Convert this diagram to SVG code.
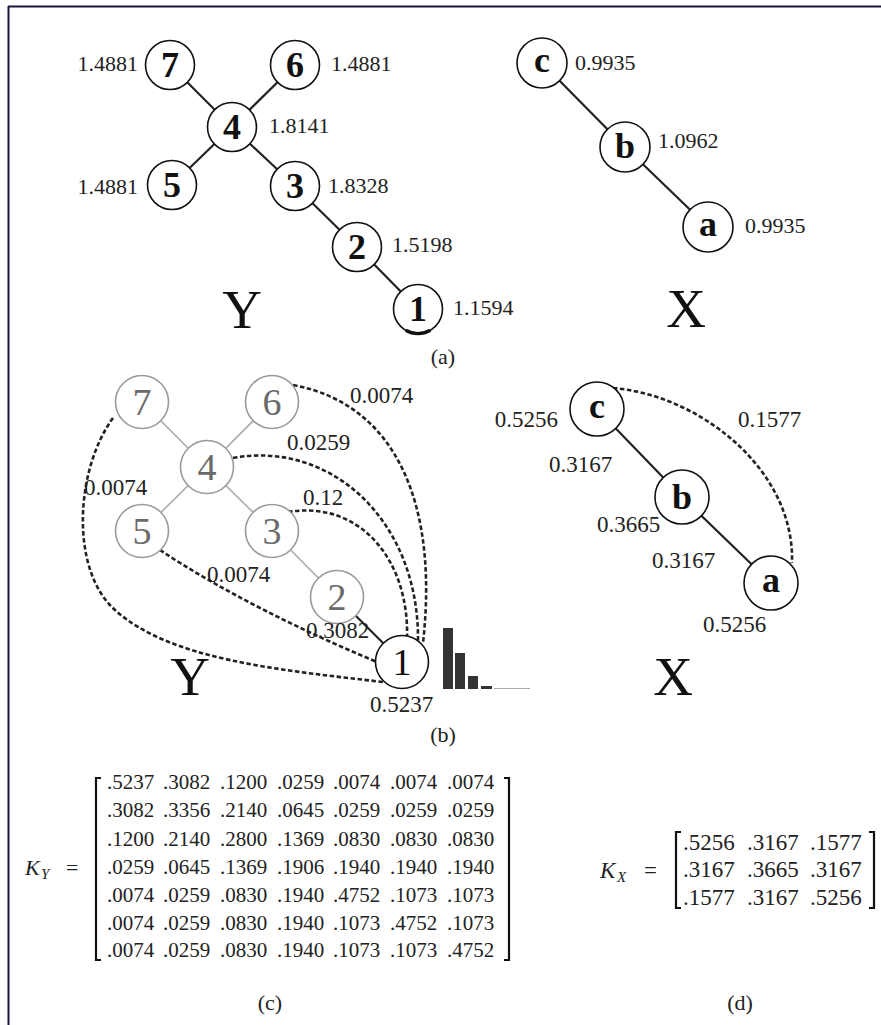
<svg xmlns="http://www.w3.org/2000/svg" width="881" height="1025" viewBox="0 0 881 1025">
<style>
text{font-family:"Liberation Serif","Times New Roman",serif;fill:#222}
.lbl{font-family:"Liberation Serif","Times New Roman",serif;font-size:22px}
.lblb{font-family:"Liberation Serif","Times New Roman",serif;font-size:23px}
.nd{fill:#fff;stroke:#111;stroke-width:1.6}
.ndg{fill:#fff;stroke:#9a9a9a;stroke-width:1.6}
.nt{font-family:"Liberation Serif","Times New Roman",serif;font-size:36px;font-weight:bold;text-anchor:middle;fill:#111}
.ntg{font-family:"Liberation Serif","Times New Roman",serif;font-size:38px;text-anchor:middle;fill:#6a6a6a}
.big{font-family:"Liberation Serif","Times New Roman",serif;font-size:55px;text-anchor:middle;fill:#111}
.cap{font-family:"Liberation Serif","Times New Roman",serif;font-size:22px;text-anchor:middle}
.e{stroke:#222;stroke-width:2.2;fill:none}
.eg{stroke:#aaa;stroke-width:1.6;fill:none}
.d{stroke:#222;stroke-width:2.6;fill:none;stroke-dasharray:4.5 2.5}
.m{font-family:"Liberation Serif","Times New Roman",serif;font-size:21px}
.mx{font-family:"Liberation Serif","Times New Roman",serif;font-size:23px}
.br{stroke:#111;stroke-width:2.2;fill:none}
</style>
<rect width="881" height="1025" fill="#fff"/>
<g id="frame">
<line x1="8" y1="6.5" x2="881" y2="6.5" stroke="#16163a" stroke-width="2"/>
<line x1="8.5" y1="6" x2="8.5" y2="1025" stroke="#16163a" stroke-width="2"/>
</g>
<g id="connectors">
<line class="e" x1="170" y1="65" x2="232" y2="127"/>
<line class="e" x1="295" y1="65" x2="232" y2="127"/>
<line class="e" x1="172" y1="185" x2="232" y2="127"/>
<line class="e" x1="232" y1="127" x2="295" y2="186"/>
<line class="e" x1="295" y1="186" x2="357" y2="247"/>
<line class="e" x1="357" y1="247" x2="418" y2="309"/>
<line class="e" x1="542" y1="63" x2="625" y2="147"/>
<line class="e" x1="625" y1="147" x2="708" y2="227"/>
<line class="eg" x1="142" y1="402" x2="207" y2="467"/>
<line class="eg" x1="272" y1="402" x2="207" y2="467"/>
<line class="eg" x1="142" y1="531" x2="207" y2="467"/>
<line class="eg" x1="207" y1="467" x2="272" y2="531"/>
<line class="eg" x1="272" y1="531" x2="337" y2="597"/>
<line class="e" x1="337" y1="597" x2="402" y2="662"/>
<path class="d" d="M293,385 C400,405 438,510 423,643"/>
<path class="d" d="M233,458 C330,440 420,520 418,643"/>
<path class="d" d="M288,512 C360,500 410,560 407,640"/>
<path class="d" d="M160,550 C220,590 300,630 377,662"/>
<path class="d" d="M113,418 C75,470 70,570 115,610 C170,660 280,670 383,682"/>
<line class="e" x1="597" y1="409" x2="682" y2="497"/>
<line class="e" x1="682" y1="497" x2="771" y2="583"/>
<path class="d" d="M613,388 C700,395 795,470 792,563"/>
</g>
<g id="panel-a-Y">
<g id="a-n7"><circle class="nd" cx="170" cy="65" r="24.5"/><text class="nt" x="170" y="77">7</text><text class="lbl" x="138" y="71" text-anchor="end">1.4881</text></g>
<g id="a-n6"><circle class="nd" cx="295" cy="65" r="24.5"/><text class="nt" x="295" y="77">6</text><text class="lbl" x="331" y="71">1.4881</text></g>
<g id="a-n4"><circle class="nd" cx="232" cy="127" r="24.5"/><text class="nt" x="232" y="139">4</text><text class="lbl" x="269" y="133">1.8141</text></g>
<g id="a-n5"><circle class="nd" cx="172" cy="185" r="24.5"/><text class="nt" x="172" y="197">5</text><text class="lbl" x="138" y="194" text-anchor="end">1.4881</text></g>
<g id="a-n3"><circle class="nd" cx="295" cy="186" r="24.5"/><text class="nt" x="295" y="198">3</text><text class="lbl" x="328" y="193">1.8328</text></g>
<g id="a-n2"><circle class="nd" cx="357" cy="247" r="24.5"/><text class="nt" x="357" y="259">2</text><text class="lbl" x="392" y="252">1.5198</text></g>
<g id="a-n1"><circle class="nd" cx="418" cy="309" r="24.5"/><path d="M405.75,330.2 A24.5,24.5 0 0 0 430.25,330.2" stroke="#111" stroke-width="3.5" fill="none"/><text class="nt" x="418" y="321">1</text><text class="lbl" x="453" y="315">1.1594</text></g>
<text class="big" x="242" y="328">Y</text>
</g>
<g id="panel-a-X">
<g id="a-nc"><circle class="nd" cx="542" cy="63" r="25"/><text class="nt" x="542" y="72">c</text><text class="lbl" x="575" y="70">0.9935</text></g>
<g id="a-nb"><circle class="nd" cx="625" cy="147" r="25"/><text class="nt" x="625" y="158">b</text><text class="lbl" x="658" y="148">1.0962</text></g>
<g id="a-na"><circle class="nd" cx="708" cy="227" r="25"/><text class="nt" x="708" y="236">a</text><text class="lbl" x="745" y="233">0.9935</text></g>
<text class="big" x="686" y="327">X</text>
</g>
<text class="cap" x="443" y="364">(a)</text>
<g id="panel-b-Y">
<g id="b-n7"><circle class="ndg" cx="142" cy="402" r="26.5"/><text class="ntg" x="142" y="415">7</text></g>
<g id="b-n6"><circle class="ndg" cx="272" cy="402" r="26.5"/><text class="ntg" x="272" y="415">6</text></g>
<g id="b-n4"><circle class="ndg" cx="207" cy="467" r="26.5"/><text class="ntg" x="207" y="480">4</text></g>
<g id="b-n5"><circle class="ndg" cx="142" cy="531" r="26.5"/><text class="ntg" x="142" y="544">5</text></g>
<g id="b-n3"><circle class="ndg" cx="272" cy="531" r="26.5"/><text class="ntg" x="272" y="544">3</text></g>
<g id="b-n2"><circle class="ndg" cx="337" cy="597" r="26.5"/><text class="ntg" x="337" y="610">2</text></g>
<g id="b-n1"><circle class="nd" cx="402" cy="662" r="26.5"/><text class="ntg" x="402" y="675" style="fill:#111">1</text></g>
<text class="lblb" x="350" y="403">0.0074</text>
<text class="lblb" x="287" y="450">0.0259</text>
<text class="lblb" x="84" y="495">0.0074</text>
<text class="lblb" x="303" y="505">0.12</text>
<text class="lblb" x="207" y="582">0.0074</text>
<text class="lblb" x="306" y="638">0.3082</text>
<text class="lblb" x="370" y="712">0.5237</text>
<text class="big" x="190" y="695">Y</text>
<g id="histogram" fill="#333">
<rect x="443" y="628" width="10" height="61"/>
<rect x="455" y="653" width="10" height="36"/>
<rect x="468" y="676" width="10" height="13"/>
<rect x="481" y="686" width="11" height="3"/>
<rect x="494" y="688" width="36" height="1" fill="#aaa"/>
</g>
</g>
<g id="panel-b-X">
<g id="b-nc"><circle class="nd" cx="597" cy="409" r="27"/><text class="nt" x="597" y="418">c</text></g>
<g id="b-nb"><circle class="nd" cx="682" cy="497" r="27"/><text class="nt" x="682" y="509">b</text></g>
<g id="b-na"><circle class="nd" cx="771" cy="583" r="27"/><text class="nt" x="771" y="592">a</text></g>
<text class="lblb" x="558" y="427" text-anchor="end">0.5256</text>
<text class="lblb" x="738" y="427">0.1577</text>
<text class="lblb" x="549" y="472">0.3167</text>
<text class="lblb" x="597" y="532">0.3665</text>
<text class="lblb" x="652" y="568">0.3167</text>
<text class="lblb" x="703" y="632">0.5256</text>
<text class="big" x="673" y="695">X</text>
</g>
<text class="cap" x="443" y="742">(b)</text>
<g id="matrix-KY">
<text x="25" y="875" font-size="22" font-style="italic">K</text>
<text x="41" y="879" font-size="15" font-style="italic">Y</text>
<text x="66" y="875" font-size="22">=</text>
<path class="br" d="M101,778 H96 V960 H101"/>
<path class="br" d="M504,778 H509 V960 H504"/>
<text class="m" y="789"><tspan x="107">.5237</tspan><tspan x="163">.3082</tspan><tspan x="220">.1200</tspan><tspan x="277">.0259</tspan><tspan x="333">.0074</tspan><tspan x="390">.0074</tspan><tspan x="447">.0074</tspan></text>
<text class="m" y="817"><tspan x="107">.3082</tspan><tspan x="163">.3356</tspan><tspan x="220">.2140</tspan><tspan x="277">.0645</tspan><tspan x="333">.0259</tspan><tspan x="390">.0259</tspan><tspan x="447">.0259</tspan></text>
<text class="m" y="846"><tspan x="107">.1200</tspan><tspan x="163">.2140</tspan><tspan x="220">.2800</tspan><tspan x="277">.1369</tspan><tspan x="333">.0830</tspan><tspan x="390">.0830</tspan><tspan x="447">.0830</tspan></text>
<text class="m" y="874"><tspan x="107">.0259</tspan><tspan x="163">.0645</tspan><tspan x="220">.1369</tspan><tspan x="277">.1906</tspan><tspan x="333">.1940</tspan><tspan x="390">.1940</tspan><tspan x="447">.1940</tspan></text>
<text class="m" y="902"><tspan x="107">.0074</tspan><tspan x="163">.0259</tspan><tspan x="220">.0830</tspan><tspan x="277">.1940</tspan><tspan x="333">.4752</tspan><tspan x="390">.1073</tspan><tspan x="447">.1073</tspan></text>
<text class="m" y="930"><tspan x="107">.0074</tspan><tspan x="163">.0259</tspan><tspan x="220">.0830</tspan><tspan x="277">.1940</tspan><tspan x="333">.1073</tspan><tspan x="390">.4752</tspan><tspan x="447">.1073</tspan></text>
<text class="m" y="957"><tspan x="107">.0074</tspan><tspan x="163">.0259</tspan><tspan x="220">.0830</tspan><tspan x="277">.1940</tspan><tspan x="333">.1073</tspan><tspan x="390">.1073</tspan><tspan x="447">.4752</tspan></text>
</g>
<text class="cap" x="270" y="1010">(c)</text>
<g id="matrix-KX">
<text x="600" y="878" font-size="23" font-style="italic">K</text>
<text x="617" y="882" font-size="15" font-style="italic">X</text>
<text x="644" y="878" font-size="23">=</text>
<path class="br" d="M681,832 H676 V908 H681"/>
<path class="br" d="M869,832 H874 V908 H869"/>
<text class="mx" y="850"><tspan x="683">.5256</tspan><tspan x="747">.3167</tspan><tspan x="810">.1577</tspan></text>
<text class="mx" y="877"><tspan x="683">.3167</tspan><tspan x="747">.3665</tspan><tspan x="810">.3167</tspan></text>
<text class="mx" y="905"><tspan x="683">.1577</tspan><tspan x="747">.3167</tspan><tspan x="810">.5256</tspan></text>
</g>
<text class="cap" x="740" y="1010">(d)</text>
</svg>
